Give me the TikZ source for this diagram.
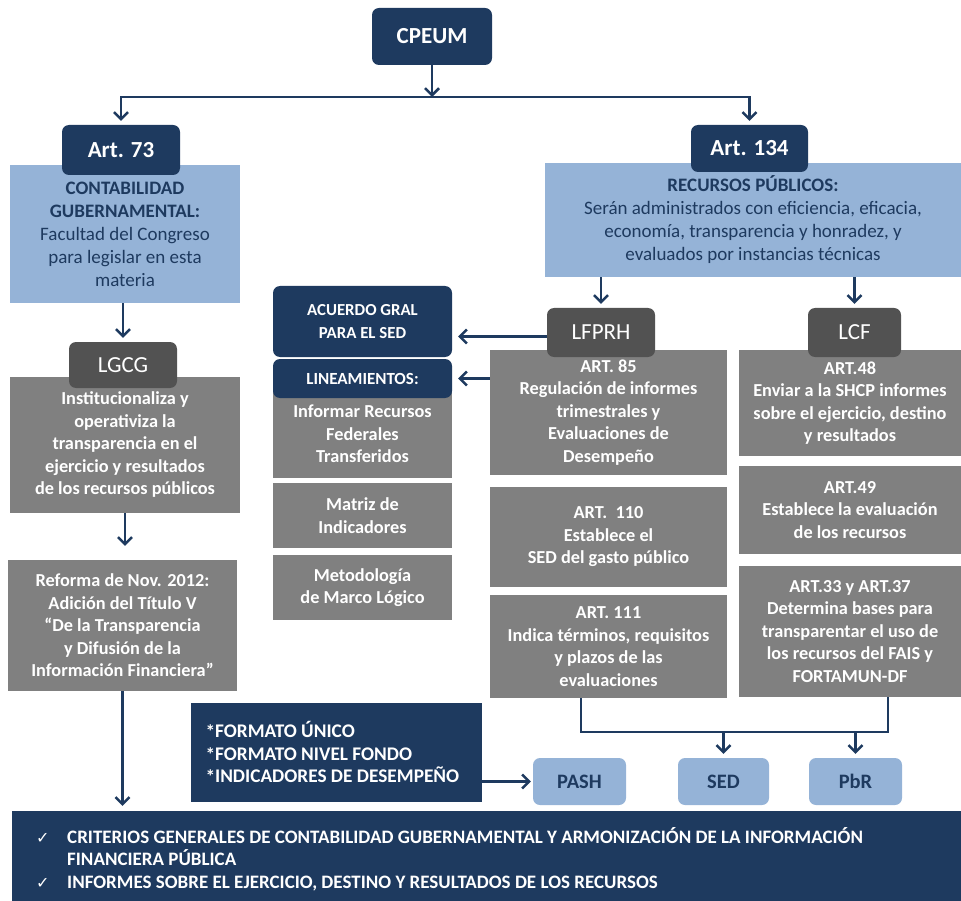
\documentclass[tikz,border=0pt]{standalone}
\usepackage{fontspec}
\setmainfont{Carlito}
\newfontfamily\dejavu{DejaVu Sans}
\usetikzlibrary{arrows.meta}
\definecolor{navy}{HTML}{1E3A5F}
\definecolor{lblue}{HTML}{95B3D7}
\definecolor{gbox}{HTML}{808080}
\definecolor{dgray}{HTML}{525252}
\newcommand\mybox[7]{\node[#1, minimum width={(#5-#3)*1pt}, minimum height={(#6-#4)*1pt}] (#2) at ({(#3+#5)/2},{(#4+#6)/2}) {#7};}
\begin{document}
\begin{tikzpicture}[x=1pt,y=-1pt,
 box/.style={rectangle, inner sep=0pt, align=center, font=\bfseries\fontsize{18.3}{22.5}\selectfont, text=white},
 graybox/.style={box, fill=gbox},
 bluebox/.style={box, fill=lblue, text=navy, font=\fontsize{19}{23}\selectfont},
 navyhead/.style={box, fill=navy, rounded corners=7pt},
 grayhead/.style={box, fill=dgray, rounded corners=7pt, font=\fontsize{23}{26}\selectfont},
 pill/.style={box, fill=lblue, rounded corners=7pt, text=navy, font=\bfseries\fontsize{20.5}{22}\selectfont},
 navyrect/.style={box, fill=navy},
 arr/.style={draw=navy, line width=2.5pt, -{Straight Barb[length=7pt,width=14pt,line width=2.5pt]}},
 ln/.style={draw=navy, line width=2.5pt},
]
\useasboundingbox (0,0) rectangle (961,901);
% top
\mybox{navyhead,font=\bfseries\fontsize{23}{25}\selectfont}{cpeum}{372}{8}{492}{65}{CPEUM}
\mybox{bluebox}{blue73}{10}{165}{240}{303}{{\bfseries CONTABILIDAD}\\{\bfseries GUBERNAMENTAL:}\\Facultad del Congreso\\para legislar en esta\\materia}
\mybox{navyhead,font=\bfseries\fontsize{23}{25}\selectfont}{art73}{62}{125}{180}{175}{Art. 73}
\mybox{bluebox}{blue134}{545}{163}{961}{277}{{\bfseries RECURSOS PÚBLICOS:}\\Serán administrados con eficiencia, eficacia,\\economía, transparencia y honradez, y\\evaluados por instancias técnicas}
\mybox{navyhead,font=\bfseries\fontsize{23}{25}\selectfont}{art134}{691}{125}{808}{172}{Art. 134}
% left column
\mybox{graybox}{lgcgbox}{10}{377}{240}{513}{Institucionaliza y\\operativiza la\\transparencia en el\\ejercicio y resultados\\de los recursos públicos}
\mybox{grayhead}{lgcg}{69}{342}{177}{388}{LGCG}
\mybox{graybox}{reforma}{8}{560}{237}{691}{Reforma de Nov. 2012:\\Adición del Título V\\“De la Transparencia\\y Difusión de la\\Información Financiera”}
% middle column
\mybox{navyhead,font=\bfseries\fontsize{16.8}{23}\selectfont}{acuerdo}{273}{286}{452}{357}{ACUERDO GRAL\\PARA EL SED}
\mybox{graybox}{informar}{273}{390}{452}{478}{Informar Recursos\\Federales\\Transferidos}
\mybox{navyhead,font=\bfseries\fontsize{17}{20}\selectfont}{lin}{273}{359}{452}{398}{LINEAMIENTOS:}
\mybox{graybox}{matriz}{273}{483}{452}{548}{Matriz de\\Indicadores}
\mybox{graybox}{metod}{273}{555}{452}{620}{Metodología\\de Marco Lógico}
% LFPRH column
\mybox{graybox}{art85}{490}{350}{727}{475}{ART. 85\\Regulación de informes\\trimestrales y\\Evaluaciones de\\Desempeño}
\mybox{grayhead}{lfprh}{547}{308}{655}{357}{LFPRH}
\mybox{graybox}{art110}{490}{487}{727}{587}{ART.\ \ 110\\Establece el\\SED del gasto público}
\mybox{graybox}{art111}{490}{595}{727}{698}{ART. 111\\Indica términos, requisitos\\y plazos de las\\evaluaciones}
% LCF column
\mybox{graybox}{art48}{739}{350}{961}{456}{ART.48\\Enviar a la SHCP informes\\sobre el ejercicio, destino\\y resultados}
\mybox{grayhead}{lcf}{808}{308}{901}{357}{LCF}
\mybox{graybox}{art49}{739}{466}{961}{554}{ART.49\\Establece la evaluación\\de los recursos}
\mybox{graybox}{art33}{739}{566}{961}{697}{ART.33 y ART.37\\Determina bases para\\transparentar el uso de\\los recursos del FAIS y\\FORTAMUN-DF}
% bottom part
\mybox{navyrect,align=left,font=\bfseries\fontsize{19.3}{22.5}\selectfont}{formato}{191}{703}{482}{802}{\parbox{262pt}{\raisebox{-1pt}{*}FORMATO ÚNICO\\\relax\raisebox{-1pt}{*}FORMATO NIVEL FONDO\\\relax\raisebox{-1pt}{*}INDICADORES DE DESEMPEÑO}}
\mybox{pill}{pash}{533}{758}{626}{805}{PASH}
\mybox{pill}{sed}{678}{758}{769}{805}{SED}
\mybox{pill}{pbr}{809}{758}{902}{805}{PbR}
\mybox{navyrect}{bottom}{12}{811}{961}{901}{}
\node[box, align=left, anchor=west, font=\bfseries\fontsize{19}{22.5}\selectfont] (btext) at (36,859) {\makebox[31pt][l]{\dejavu\fontsize{16}{22}\selectfont ✓}CRITERIOS GENERALES DE CONTABILIDAD GUBERNAMENTAL Y ARMONIZACIÓN DE LA INFORMACIÓN\\\hspace*{31pt}FINANCIERA PÚBLICA\\\makebox[31pt][l]{\dejavu\fontsize{16}{22}\selectfont ✓}INFORMES SOBRE EL EJERCICIO, DESTINO Y RESULTADOS DE LOS RECURSOS};
% connectors
\coordinate (bus) at (432,97);
\draw[arr] (cpeum.south) -- (bus);
\draw[arr, shorten >=4pt] (bus) -| (art73.north);
\draw[arr, shorten >=4pt] (bus) -| (art134.north);
\draw[arr, shorten >=4pt] (blue73.south -| lgcg.north) -- (lgcg.north);
\draw[arr, shorten >=14pt] (lgcgbox.south) -- (lgcgbox.south |- reforma.north);
\draw[arr, shorten >=5pt] (reforma.south) -- (reforma.south |- bottom.north);
\draw[arr, shorten >=4pt] (blue134.south -| lfprh.north) -- (lfprh.north);
\draw[arr, shorten >=4pt] (blue134.south -| lcf.north) -- (lcf.north);
\draw[arr, shorten >=6pt] ([yshift=-4pt]lfprh.west) -- ([yshift=-4pt]acuerdo.east |- lfprh.west);
\draw[arr, shorten >=6pt] (art85.west |- lin.east) -- (lin.east);
\coordinate (b1) at (581,732);
\coordinate (b2) at (888,732);
\draw[ln] (art111.south -| b1) -- (b1) -- (b2) -- (art33.south -| b2);
\draw[arr, shorten >=4pt] (b1 -| sed.north) -- (sed.north);
\draw[arr, shorten >=4pt] (b1 -| pbr.north) -- (pbr.north);
\draw[arr, shorten >=2pt] (formato.east |- pash.west) -- (pash.west);
\end{tikzpicture}
\end{document}
